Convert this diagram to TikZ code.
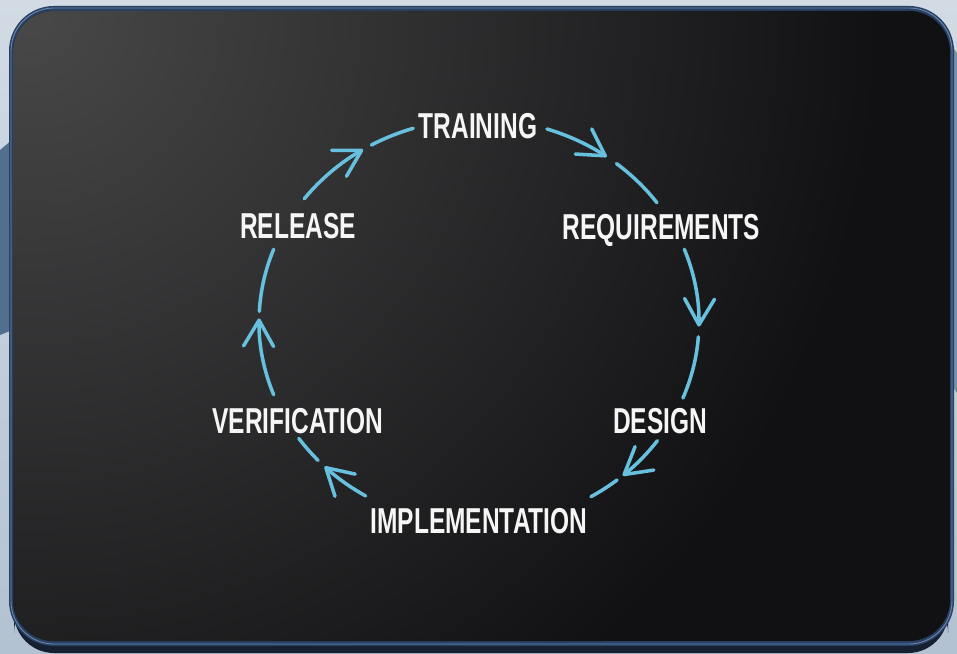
\documentclass[tikz,border=0pt]{standalone}
\usepackage{fontspec}
\setmainfont{Liberation Sans}
\newfontfamily\labelfont[FakeStretch=0.68]{Liberation Sans}
\usetikzlibrary{arrows.meta,calc}
\definecolor{flowblue}{RGB}{102,192,222}
\definecolor{bgtop}{RGB}{210,219,228}
\definecolor{bgbottom}{RGB}{178,194,210}
\definecolor{bgblue}{RGB}{82,112,142}
\definecolor{shadowcol}{RGB}{22,32,48}
\definecolor{bezel}{RGB}{40,64,100}
\definecolor{bezelhi}{RGB}{110,136,170}
\definecolor{screenhi}{RGB}{72,72,73}
\definecolor{screendark}{RGB}{17,17,19}
\definecolor{labeltext}{RGB}{246,246,246}
\newcommand\cyclearc[3][]{%
  \draw[flow,#1] ($(c)+(#2:4.4cm and 4.06cm)$)
    arc[start angle=#2, end angle=#3, x radius=4.4cm, y radius=4.06cm];}
\begin{document}
\begin{tikzpicture}[x=0.02cm,y=0.02cm,
  lbl/.style={text=labeltext, font=\labelfont\bfseries\fontsize{20.5}{21}\selectfont,
    inner sep=0pt, text height=14.9pt, text depth=0pt, anchor=center},
  flow/.style={draw=flowblue, line width=2pt, line cap=round},
  flowtip/.style={-{Straight Barb[length=0.52cm,width=0.6cm,round]}}]
\useasboundingbox (0,0) rectangle (957,653);
% background
\shade[top color=bgtop, bottom color=bgbottom] (0,0) rectangle (957,653);
\fill[bgblue] (0,503) -- (30,528) -- (30,330) -- (0,318) -- cycle;
\fill[bgblue!70!bgtop] (957,600) -- (930,640) -- (930,300) -- (957,260) -- cycle;
% tablet
\fill[shadowcol, rounded corners=0.8cm] (14,0) rectangle (948,60);
\fill[bezel, rounded corners=0.9cm] (9,7) rectangle (954,647);
\draw[bezelhi, line width=0.5pt, rounded corners=0.86cm] (11,9) rectangle (952,645);
\begin{scope}
  \clip[rounded corners=0.82cm] (13,12) rectangle (950,642);
  \fill[screendark] (13,12) rectangle (950,642);
  \shade[inner color=screenhi, outer color=screendark] (30,640) circle (850);
\end{scope}
% cycle
\coordinate (c) at (479,331);
\node[lbl] (training) at (478,528) {TRAINING};
\node[lbl] (requirements) at (661.5,427) {REQUIREMENTS};
\node[lbl] (design) at (660,233) {DESIGN};
\node[lbl] (implementation) at (479,133) {IMPLEMENTATION};
\node[lbl] (verification) at (298,233) {VERIFICATION};
\node[lbl] (release) at (298,428) {RELEASE};
% training -> requirements
\cyclearc[flowtip]{72}{54.5}
\cyclearc{51.3}{36}
% requirements -> design
\cyclearc[flowtip]{21}{-1.3}
\cyclearc{-4.2}{-22}
% design -> implementation
\cyclearc[flowtip]{-35.8}{-49.2}
\cyclearc{-51.1}{-59.4}
% implementation -> verification
\cyclearc[flowtip]{239}{225.4}
\cyclearc{223}{215}
% verification -> release
\cyclearc[flowtip]{201}{179}
\cyclearc{177}{159}
% release -> training
\cyclearc[flowtip]{142.6}{121.8}
\cyclearc{119.3}{107.4}
\end{tikzpicture}
\end{document}
